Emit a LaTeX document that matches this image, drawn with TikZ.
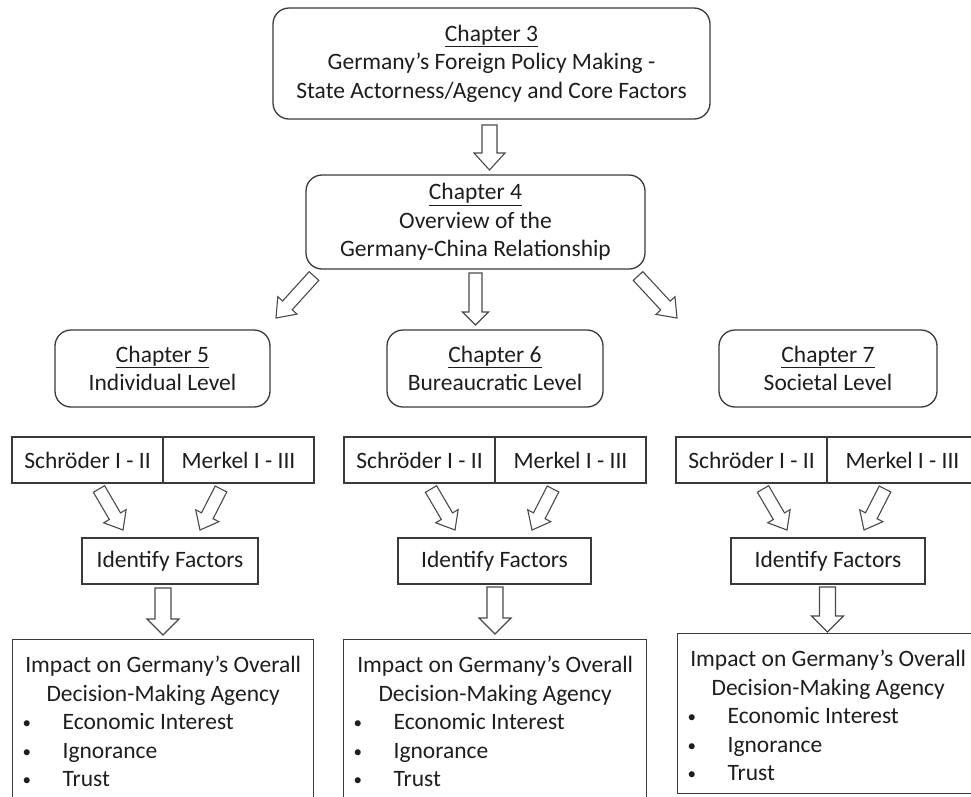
\documentclass[tikz,border=0pt]{standalone}
\usepackage{fontspec}
\setmainfont{Carlito}
\usetikzlibrary{calc}
\definecolor{boxline}{HTML}{3A3A3A}
\definecolor{arrline}{HTML}{4A4A4A}
\definecolor{txt}{HTML}{1E1E1E}
\newcommand\hollowarrow[5]{%
  \draw[barrow] ($(#1)!#3!90:(#2)$) --
    ($(#2)!#5!(#1)!#3!90:(#2)$) --
    ($(#2)!#5!(#1)!#4!90:(#2)$) --
    (#2) --
    ($(#2)!#5!(#1)!#4!-90:(#2)$) --
    ($(#2)!#5!(#1)!#3!-90:(#2)$) --
    ($(#1)!#3!-90:(#2)$) -- cycle;}
\newcommand\bul{\hspace*{10pt}\makebox[40pt][l]{\raisebox{1pt}{\fontsize{17}{17}\selectfont •}}}
\begin{document}
\begin{tikzpicture}[x=1pt,y=-1pt,
  every node/.style={text=txt,font=\fontsize{23.5}{28.5}\selectfont,inner sep=0pt,align=center},
  chapbox/.style={draw=boxline,line width=1.3pt,rounded corners=16pt,fill=white},
  plainbox/.style={draw=boxline,line width=1.3pt,fill=white},
  barrow/.style={draw=arrline,line width=1.1pt,fill=white,line join=miter}]
\useasboundingbox (0,0) rectangle (971,796);
\fill[white] (0,0) rectangle (971,796);

% chapter boxes
\node[chapbox,minimum width=437pt,minimum height=111pt] (ch3) at (491.5,63.5)
  {\underline{Chapter 3}\\Germany’s Foreign Policy Making -\\State Actorness/Agency and Core Factors};
\node[chapbox,minimum width=339pt,minimum height=94pt] (ch4) at (475.5,222)
  {\underline{Chapter 4}\\Overview of the\\Germany-China Relationship};
\node[chapbox,minimum width=215pt,minimum height=77pt] (ch5) at (162.5,368.5)
  {\underline{Chapter 5}\\Individual Level};
\node[chapbox,minimum width=216pt,minimum height=77pt] (ch6) at (495,368.5)
  {\underline{Chapter 6}\\Bureaucratic Level};
\node[chapbox,minimum width=218pt,minimum height=77pt] (ch7) at (828,368.5)
  {\underline{Chapter 7}\\Societal Level};

% split boxes
\foreach \n/\d in {1/0,2/332,3/664}{
  \node[plainbox,minimum width=151pt,minimum height=46pt] (s\n a) at (87.5+\d,460) {Schröder I - II};
  \node[plainbox,minimum width=151pt,minimum height=46pt] (s\n b) at (238.5+\d,460) {Merkel I - III};
}

% identify boxes
\node[plainbox,minimum width=176pt,minimum height=46pt] (id1) at (170,561) {Identify Factors};
\node[plainbox,minimum width=193pt,minimum height=46pt] (id2) at (494.5,561) {Identify Factors};
\node[plainbox,minimum width=194pt,minimum height=46pt] (id3) at (828,561) {Identify Factors};

% impact boxes
\newcommand\impacttext[2]{\begin{minipage}[c][#2][t]{#1}\centering
  \rule{0pt}{33pt}Impact on Germany’s Overall\\Decision-Making Agency\par
  \raggedright\bul Economic Interest\\\bul Ignorance\\\bul Trust\end{minipage}}
\node[plainbox,anchor=north west] (im1) at (12,639) {\impacttext{301pt}{170pt}};
\node[plainbox,anchor=north west] (im2) at (343,639) {\impacttext{303pt}{170pt}};
\node[plainbox,anchor=north west] (im3) at (677,633) {\impacttext{301pt}{160pt}};

% arrow end points
\coordinate (a1t) at (489.5,125);  \coordinate (a1h) at (489.5,170);
\coordinate (a2t) at (475.5,273);  \coordinate (a2h) at (475.5,325);
\coordinate (a3t) at (314,276);    \coordinate (a3h) at (276,318);
\coordinate (a4t) at (638,276);    \coordinate (a4h) at (677,318);
\foreach \n/\d in {1/0,2/332,3/664}{
  \coordinate (l\n t) at (99+\d,489);  \coordinate (l\n h) at (123+\d,530);
  \coordinate (r\n t) at (221+\d,489); \coordinate (r\n h) at (200+\d,530);
}
\coordinate (d1t) at (163,588);   \coordinate (d1h) at (163,635);
\coordinate (d2t) at (495,587);   \coordinate (d2h) at (495,634);
\coordinate (d3t) at (827.5,587); \coordinate (d3h) at (827.5,632);

% arrows
\hollowarrow{a1t}{a1h}{7.5pt}{15.5pt}{17pt}
\hollowarrow{a2t}{a2h}{6.5pt}{13pt}{13pt}
\hollowarrow{a3t}{a3h}{6.5pt}{13pt}{17pt}
\hollowarrow{a4t}{a4h}{6.5pt}{13pt}{17pt}
\foreach \n in {1,2,3}{
  \hollowarrow{l\n t}{l\n h}{6.5pt}{13pt}{16pt}
  \hollowarrow{r\n t}{r\n h}{6.5pt}{13pt}{16pt}
}
\hollowarrow{d1t}{d1h}{8pt}{16pt}{16pt}
\hollowarrow{d2t}{d2h}{8pt}{16pt}{16pt}
\hollowarrow{d3t}{d3h}{8pt}{16pt}{16pt}
\end{tikzpicture}
\end{document}
